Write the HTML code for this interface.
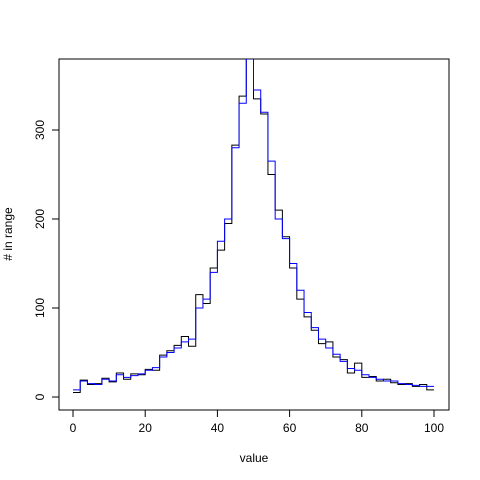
<!DOCTYPE html>
<html><head><meta charset="utf-8"><style>body{margin:0;background:#fff}svg{display:block;font-family:"Liberation Sans",Arial,sans-serif}</style></head>
<body>
<svg id="c" width="480" height="480">
<defs><clipPath id="clip"><rect x="59" y="59" width="390" height="351"/></clipPath></defs>
<rect x="59" y="59" width="390" height="351" fill="none" stroke="#000"/>
<g id="axes"></g>
<g id="series" clip-path="url(#clip)"></g>
<text x="254" y="462" font-size="12" text-anchor="middle">value</text>
<text transform="translate(12,234) rotate(-90)" font-size="12" text-anchor="middle"># in range</text>
</svg>
<script>
const binEdges = [0,2,4,6,8,10,12,14,16,18,20,22,24,26,28,30,32,34,36,38,40,42,44,46,48,50,52,54,56,58,60,62,64,66,68,70,72,74,76,78,80,82,84,86,88,90,92,94,96,98,100];
const blueCounts = [8,18,15,14,20,18,25,22,24,26,30,33,45,50,55,62,65,100,110,140,175,200,280,330,380,345,320,265,200,178,150,120,95,78,65,55,48,40,32,30,25,22,20,18,18,15,14,13,12,12];
const blackCounts = [5,19,14,15,21,17,27,20,26,25,31,30,47,52,58,68,57,115,105,145,165,195,283,338,385,335,318,250,210,180,145,110,90,75,60,62,45,42,27,38,22,23,18,20,16,14,15,12,14,8];
const xTicks = [0,20,40,60,80,100];
const yTicks = [0,100,200,300];
const X = v => 73 + v*3.61;
const Y = v => 397 - v*0.89;
const NS = "http://www.w3.org/2000/svg";
const axes = document.getElementById('axes');
function mk(tag, attrs, parent){const e=document.createElementNS(NS,tag);for(const k in attrs)e.setAttribute(k,attrs[k]);parent.appendChild(e);return e;}
let xl = mk('line',{x1:X(0),x2:X(100),y1:410,y2:410,stroke:'#000'},axes);


xTicks.forEach(t=>{
  const l=mk('line',{x1:X(t),x2:X(t),y1:410,y2:417,stroke:'#000'},axes);
  
  
  const tx=mk('text',{x:X(t),y:432,'font-size':12,'text-anchor':'middle'},axes);tx.textContent=t;
  
  
});
let yl = mk('line',{x1:59,x2:59,y1:Y(0),y2:Y(300),stroke:'#000'},axes);


yTicks.forEach(t=>{
  const l=mk('line',{x1:52,x2:59,y1:Y(t),y2:Y(t),stroke:'#000'},axes);
  
  
  const tx=mk('text',{transform:`translate(44,${Y(t)}) rotate(-90)`,'font-size':12,'text-anchor':'middle'},axes);tx.textContent=t;
  
  
});
const series = document.getElementById('series');
function stepPath(counts){
  let d=`M${X(binEdges[0])},${Y(counts[0])}`;
  for(let i=0;i<counts.length;i++){
    d+=` L${X(binEdges[i])},${Y(counts[i])} L${X(binEdges[i+1])},${Y(counts[i])}`;
  }
  return d;
}
const pb=mk('path',{d:stepPath(blackCounts),fill:'none',stroke:'#000','stroke-width':1},series);


const pu=mk('path',{d:stepPath(blueCounts),fill:'none',stroke:'#0000ff','stroke-width':1},series);


</script>
</body></html>
